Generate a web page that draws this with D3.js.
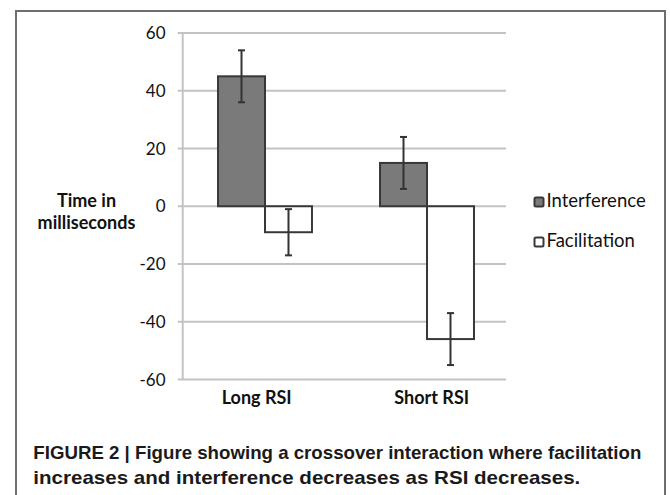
<!DOCTYPE html>
<html><head><meta charset="utf-8">
<script src="https://cdn.jsdelivr.net/npm/d3@7"></script>
<style>
html,body{margin:0;padding:0;background:#fff;}
svg{display:block;}
</style></head>
<body>
<svg id="chart" width="670" height="495"></svg>
<script>
const categories = ["Long RSI", "Short RSI"];
const seriesNames = ["Interference", "Facilitation"];
const interference = [45, 15];
const facilitation = [-9, -46];
const interferenceErr = [9, 9];
const facilitationErr = [8, 9];
const yTicks = [-60, -40, -20, 0, 20, 40, 60];
const yTitle = ["Time in", "milliseconds"];
const caption = ["FIGURE 2 | Figure showing a crossover interaction where facilitation",
                 "increases and interference decreases as RSI decreases."];

const values = {Interference: interference, Facilitation: facilitation};
const errs = {Interference: interferenceErr, Facilitation: facilitationErr};
const fills = {Interference: "#7a7a7a", Facilitation: "#ffffff"};

const svg = d3.select("#chart");
const font = "Lato, 'Open Sans', sans-serif";

// frame
svg.append("path")
  .attr("d", "M16,495 L16,11 L665,11 L665,495")
  .attr("fill", "none").attr("stroke", "#6e6e6e").attr("stroke-width", 2);

const y = d3.scaleLinear().domain([-60, 60]).range([379.5, 33]);
const axisX = 182.7, gridRight = 506;

// gridlines
svg.append("g").selectAll("line").data(yTicks).join("line")
  .attr("x1", axisX - 5).attr("x2", gridRight)
  .attr("y1", d => y(d)).attr("y2", d => y(d))
  .attr("stroke", "#c3c3c3").attr("stroke-width", 2);
// y axis line
svg.append("line").attr("x1", axisX).attr("x2", axisX)
  .attr("y1", y(60)).attr("y2", y(-60))
  .attr("stroke", "#c3c3c3").attr("stroke-width", 2);

// tick labels
svg.append("g").selectAll("text").data(yTicks).join("text")
  .attr("x", 165.5).attr("y", d => y(d) + 6)
  .attr("text-anchor", "end")
  .attr("font-family", font).attr("font-size", 17).attr("fill", "#111")
  .text(d => d);

// bars
const x0 = d3.scaleBand().domain(categories).range([184, 508]).paddingInner(0.42).paddingOuter(0.21);
const x1 = d3.scaleBand().domain(seriesNames).range([0, x0.bandwidth()]);

const groups = svg.append("g").selectAll("g").data(categories).join("g")
  .attr("transform", c => `translate(${x0(c)},0)`);

groups.each(function(c, i) {
  const g = d3.select(this);
  seriesNames.forEach(s => {
    const v = values[s][i];
    g.append("rect")
      .attr("x", x1(s)).attr("width", x1.bandwidth())
      .attr("y", y(Math.max(0, v))).attr("height", Math.abs(y(v) - y(0)))
      .attr("fill", fills[s]).attr("stroke", "#383838").attr("stroke-width", 2);
  });
  seriesNames.forEach(s => {
    const v = values[s][i], e = errs[s][i];
    const cx = x1(s) + x1.bandwidth() / 2;
    g.append("line").attr("x1", cx).attr("x2", cx)
      .attr("y1", y(v + e)).attr("y2", y(v - e))
      .attr("stroke", "#333").attr("stroke-width", 2);
    [v + e, v - e].forEach(t => {
      g.append("line").attr("x1", cx - 3.5).attr("x2", cx + 3.5)
        .attr("y1", y(t)).attr("y2", y(t))
        .attr("stroke", "#333").attr("stroke-width", 2);
    });
  });
});

// category labels
const xl = d3.scalePoint().domain(categories).range([256.7, 431.7]);
svg.append("g").selectAll("text").data(categories).join("text")
  .attr("x", d => xl(d)).attr("y", 403.5)
  .attr("text-anchor", "middle")
  .attr("font-family", font).attr("font-weight", "bold").attr("font-size", 18).attr("fill", "#111")
  .text(d => d);

// y title
svg.append("g").selectAll("text").data(yTitle).join("text")
  .attr("x", 86.5).attr("y", (d, i) => 206.5 + i * 22.5)
  .attr("text-anchor", "middle")
  .attr("font-family", font).attr("font-weight", "bold").attr("font-size", 18).attr("fill", "#111")
  .text(d => d);

// legend
const leg = svg.append("g").selectAll("g").data(seriesNames).join("g")
  .attr("transform", (d, i) => `translate(534,${197 + i * 40})`);
leg.append("rect").attr("x", 0.5).attr("y", 0.5).attr("width", 9).attr("height", 9)
  .attr("rx", 1.5)
  .attr("fill", d => fills[d]).attr("stroke", "#383838").attr("stroke-width", 2);
leg.append("text").attr("x", 12.5).attr("y", 9.7)
  .attr("font-family", font).attr("font-size", 18.5).attr("fill", "#111")
  .text(d => d);

// caption
const capWidths = [608, 547];
svg.append("g").selectAll("text").data(caption).join("text")
  .attr("x", 33.3).attr("y", (d, i) => 459.3 + i * 24.2)
  .attr("font-family", "'Liberation Sans', Arial, sans-serif")
  .attr("font-weight", "bold").attr("font-size", 19).attr("fill", "#1a1a1a")
  .attr("textLength", (d, i) => capWidths[i]).attr("lengthAdjust", "spacingAndGlyphs")
  .text(d => d);
</script>
</body></html>
